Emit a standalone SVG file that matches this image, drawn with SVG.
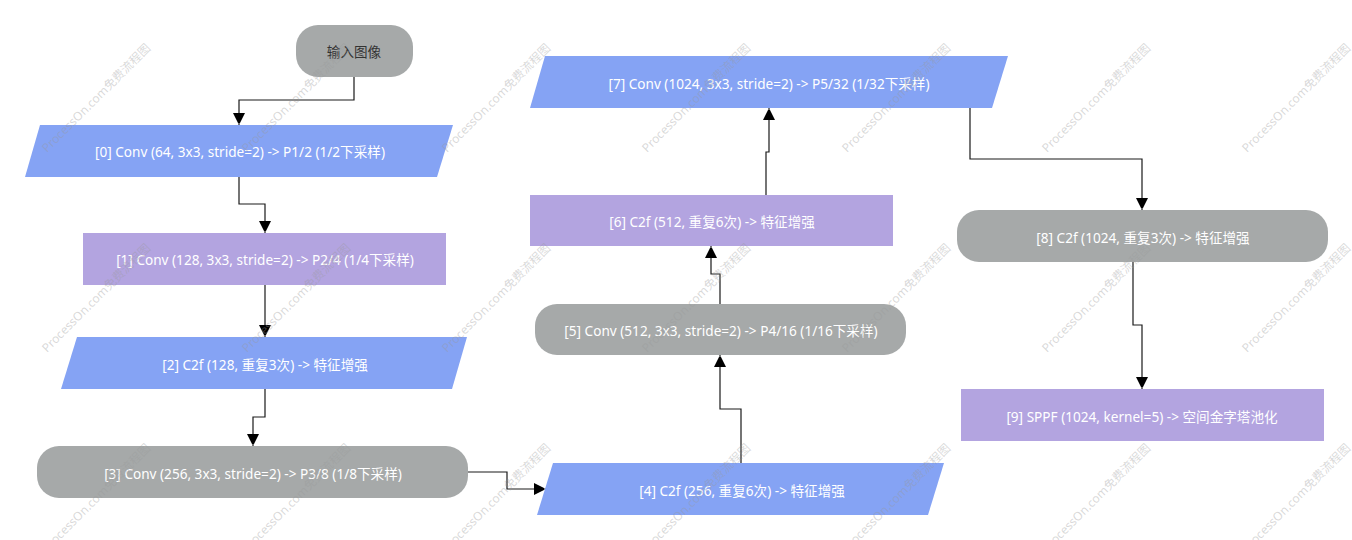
<svg xmlns="http://www.w3.org/2000/svg" width="1352" height="540" viewBox="0 0 1352 540">
<defs>
<style>
.blue{fill:#85a3f4}
.purple{fill:#b3a4e0}
.gray{fill:#a6a9a9}
.t{font-family:"Microsoft YaHei","Noto Sans","Noto Sans CJK SC",sans-serif;font-size:13.6px;fill:#ffffff;text-anchor:middle;dominant-baseline:central}
.dark{fill:#333333}
.c{fill:none;stroke:#1a1a1a;stroke-width:1.2}
.wm{font-family:"Microsoft YaHei","Noto Sans","Noto Sans CJK SC",sans-serif;font-size:12px;fill:#999999;fill-opacity:0.38}
</style>
<marker id="arr" viewBox="0 0 10 12" refX="12" refY="6" markerWidth="10" markerHeight="12" markerUnits="userSpaceOnUse" orient="auto">
<path d="M0,0 L12,6 L0,12 z" fill="#000000"/>
</marker>
</defs>
<rect width="1352" height="540" fill="#ffffff"/>

<g id="connectors">
<path class="c" d="M354,77 V100 H239 V125" marker-end="url(#arr)"/>
<path class="c" d="M239,177 V204 H265 V233" marker-end="url(#arr)"/>
<path class="c" d="M265,285 V337" marker-end="url(#arr)"/>
<path class="c" d="M265,389 V417 H253 V446" marker-end="url(#arr)"/>
<path class="c" d="M468,472 H507 V489 H546" marker-end="url(#arr)"/>
<path class="c" d="M741,463 V409 H720 V355" marker-end="url(#arr)"/>
<path class="c" d="M720,304 V274 H711 V246" marker-end="url(#arr)"/>
<path class="c" d="M766,195 V152 H769 V108" marker-end="url(#arr)"/>
<path class="c" d="M970,108 V159 H1142 V210" marker-end="url(#arr)"/>
<path class="c" d="M1133,262 V325 H1142 V389" marker-end="url(#arr)"/>
</g>

<g id="start">
<rect class="gray" x="296" y="25" width="117" height="52" rx="22"/>
<text class="t dark" x="354" y="51">输入图像</text>
</g>
<g id="n0">
<polygon class="blue" points="40,125 453,125 437,177 25,177"/>
<text class="t" x="240" y="151">[0] Conv (64, 3x3, stride=2) -&gt; P1/2 (1/2下采样)</text>
</g>
<g id="n1">
<rect class="purple" x="83" y="233" width="363" height="52"/>
<text class="t" x="265" y="259">[1] Conv (128, 3x3, stride=2) -&gt; P2/4 (1/4下采样)</text>
</g>
<g id="n2">
<polygon class="blue" points="77,337 467,337 452,389 61,389"/>
<text class="t" x="265" y="364">[2] C2f (128, 重复3次) -&gt; 特征增强</text>
</g>
<g id="n3">
<rect class="gray" x="37" y="446" width="431" height="52" rx="22"/>
<text class="t" x="253" y="473">[3] Conv (256, 3x3, stride=2) -&gt; P3/8 (1/8下采样)</text>
</g>
<g id="n4">
<polygon class="blue" points="553,463 944,463 928,515 537,515"/>
<text class="t" x="742" y="490">[4] C2f (256, 重复6次) -&gt; 特征增强</text>
</g>
<g id="n5">
<rect class="gray" x="535" y="304" width="371" height="51" rx="22"/>
<text class="t" x="721" y="330">[5] Conv (512, 3x3, stride=2) -&gt; P4/16 (1/16下采样)</text>
</g>
<g id="n6">
<rect class="purple" x="530" y="195" width="363" height="51"/>
<text class="t" x="712" y="221">[6] C2f (512, 重复6次) -&gt; 特征增强</text>
</g>
<g id="n7">
<polygon class="blue" points="545,56 1008,56 992,108 530,108"/>
<text class="t" x="769" y="83">[7] Conv (1024, 3x3, stride=2) -&gt; P5/32 (1/32下采样)</text>
</g>
<g id="n8">
<rect class="gray" x="957" y="210" width="371" height="52" rx="22"/>
<text class="t" x="1143" y="237">[8] C2f (1024, 重复3次) -&gt; 特征增强</text>
</g>
<g id="n9">
<rect class="purple" x="961" y="389" width="363" height="52"/>
<text class="t" x="1142" y="416">[9] SPPF (1024, kernel=5) -&gt; 空间金字塔池化</text>
</g>

<g id="watermark">
<text class="wm" transform="translate(47,153) rotate(-45)">ProcessOn.com免费流程图</text>
<text class="wm" transform="translate(247,153) rotate(-45)">ProcessOn.com免费流程图</text>
<text class="wm" transform="translate(447,153) rotate(-45)">ProcessOn.com免费流程图</text>
<text class="wm" transform="translate(647,153) rotate(-45)">ProcessOn.com免费流程图</text>
<text class="wm" transform="translate(847,153) rotate(-45)">ProcessOn.com免费流程图</text>
<text class="wm" transform="translate(1047,153) rotate(-45)">ProcessOn.com免费流程图</text>
<text class="wm" transform="translate(1247,153) rotate(-45)">ProcessOn.com免费流程图</text>
<text class="wm" transform="translate(47,353) rotate(-45)">ProcessOn.com免费流程图</text>
<text class="wm" transform="translate(247,353) rotate(-45)">ProcessOn.com免费流程图</text>
<text class="wm" transform="translate(447,353) rotate(-45)">ProcessOn.com免费流程图</text>
<text class="wm" transform="translate(647,353) rotate(-45)">ProcessOn.com免费流程图</text>
<text class="wm" transform="translate(847,353) rotate(-45)">ProcessOn.com免费流程图</text>
<text class="wm" transform="translate(1047,353) rotate(-45)">ProcessOn.com免费流程图</text>
<text class="wm" transform="translate(1247,353) rotate(-45)">ProcessOn.com免费流程图</text>
<text class="wm" transform="translate(47,553) rotate(-45)">ProcessOn.com免费流程图</text>
<text class="wm" transform="translate(247,553) rotate(-45)">ProcessOn.com免费流程图</text>
<text class="wm" transform="translate(447,553) rotate(-45)">ProcessOn.com免费流程图</text>
<text class="wm" transform="translate(647,553) rotate(-45)">ProcessOn.com免费流程图</text>
<text class="wm" transform="translate(847,553) rotate(-45)">ProcessOn.com免费流程图</text>
<text class="wm" transform="translate(1047,553) rotate(-45)">ProcessOn.com免费流程图</text>
<text class="wm" transform="translate(1247,553) rotate(-45)">ProcessOn.com免费流程图</text>
</g>
</svg>
